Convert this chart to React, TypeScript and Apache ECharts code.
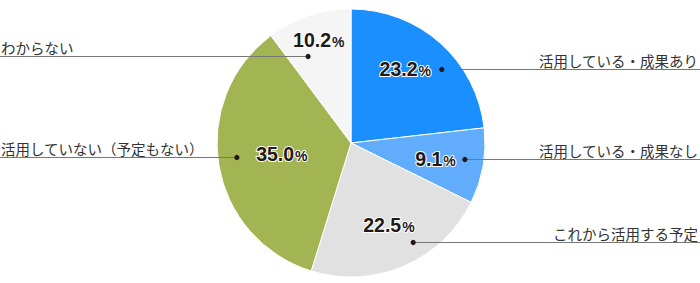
import React, { useEffect, useRef } from "react";
import * as echarts from "echarts";

// ---- data ----
const CATEGORIES: string[] = [
  "活用している・成果あり",
  "活用している・成果なし",
  "これから活用する予定",
  "活用していない（予定もない）",
  "わからない",
];
const VALUES: number[] = [23.2, 9.1, 22.5, 35.0, 10.2];
const COLORS: string[] = ["#1a8ffd", "#62adfb", "#e1e1e1", "#a3b552", "#f5f5f5"];

// ---- layout (positions / styles) ----
const CX = 351;
const CY = 143;
const R = 134;
const W = 700;
const H = 283;
// percent label: [radius px, angle offset from slice mid (deg)]
const PCT_POS: [number, number][] = [
  [92, -5.6],
  [86, 1.1],
  [90, -1.7],
  [70, 0.7],
  [108, 1.0],
];
// leader dot: [radius px, angle offset from slice mid (deg)]
const DOT_POS: [number, number][] = [
  [117, 9.1],
  [115, -1.9],
  [117, -8.9],
  [115, 2.7],
  [97, -7.9],
];

const TOTAL = VALUES.reduce((a, b) => a + b, 0);
function midAngle(i: number): number {
  let before = 0;
  for (let k = 0; k < i; k++) before += VALUES[k];
  return ((before + VALUES[i] / 2) / TOTAL) * 360;
}
function polar(rad: number, deg: number): [number, number] {
  const a = (deg * Math.PI) / 180;
  return [CX + rad * Math.sin(a), CY - rad * Math.cos(a)];
}
function dotPoint(i: number): [number, number] {
  const [r, off] = DOT_POS[i];
  const p = polar(r, midAngle(i) + off);
  return [p[0], Math.round(p[1]) + 0.5];
}

export default function App() {
  const ref = useRef<HTMLDivElement>(null);
  useEffect(() => {
    if (!ref.current) return;
    const chart = echarts.init(ref.current, undefined, { renderer: "svg" });
    const data = CATEGORIES.map((name, i) => ({
      name,
      value: VALUES[i],
      itemStyle: { color: COLORS[i] },
    }));
    const dots = CATEGORIES.map((_, i) => {
      const [x, y] = dotPoint(i);
      return {
        type: "circle",
        shape: { cx: x, cy: y, r: 2.6 },
        style: { fill: "#231815" },
        z: 100,
      };
    });
    chart.setOption({
      animation: false,
      backgroundColor: "#ffffff",
      graphic: dots,
      series: [
        {
          type: "pie",
          center: [CX, CY],
          radius: [0, R],
          startAngle: 90,
          clockwise: true,
          silent: true,
          avoidLabelOverlap: false,
          itemStyle: { borderColor: "#ffffff", borderWidth: 1 },
          data,
          z: 1,
          label: {
            show: true,
            position: "inside",
            formatter: (p: any) => `{n|${Number(p.value).toFixed(1)}}{p|%}`,
            rich: {
              n: {
                fontFamily: "Liberation Sans, Arial, sans-serif",
                fontWeight: "bold",
                fontSize: 19.5,
                color: "#231815",
                textBorderColor: "#ffffff",
                textBorderWidth: 2,
                verticalAlign: "bottom",
              },
              p: {
                fontFamily: "Liberation Sans, Arial, sans-serif",
                fontWeight: "bold",
                fontSize: 14,
                color: "#231815",
                textBorderColor: "#ffffff",
                textBorderWidth: 2,
                verticalAlign: "bottom",
                padding: [0, 0, 1, 1],
              },
            },
          },
          labelLine: { show: false },
          labelLayout: (params: any) => {
            const i = params.dataIndex;
            const [r, off] = PCT_POS[i];
            const [x, y] = polar(r, midAngle(i) + off);
            return { x, y, align: "center", verticalAlign: "middle" };
          },
        },
        {
          type: "pie",
          center: [CX, CY],
          radius: [0, R],
          startAngle: 90,
          clockwise: true,
          silent: true,
          avoidLabelOverlap: false,
          itemStyle: { color: "rgba(0,0,0,0)", borderWidth: 0 },
          data: CATEGORIES.map((name, i) => ({ name, value: VALUES[i] })),
          z: 2,
          label: {
            show: true,
            position: "outside",
            formatter: "{b}",
            fontFamily: "Noto Sans CJK JP, sans-serif",
            fontSize: 14.5,
            color: "#333333",
          },
          labelLine: {
            show: true,
            lineStyle: { color: "#777777", width: 1 },
          },
          labelLayout: (params: any) => {
            const i = params.dataIndex;
            const [dx, dy] = dotPoint(i);
            const right = dx > CX;
            const edge = right ? W : 0;
            return {
              x: right ? W - 2 : 1,
              y: dy - 2,
              align: right ? "right" : "left",
              verticalAlign: "bottom",
              labelLinePoints: [
                [dx, dy],
                [(dx + edge) / 2, dy],
                [edge, dy],
              ],
            };
          },
        },
      ],
    });
    return () => chart.dispose();
  }, []);
  return (
    <div
      ref={ref}
      style={{ position: "absolute", left: 0, top: 0, width: W, height: H }}
    />
  );
}
